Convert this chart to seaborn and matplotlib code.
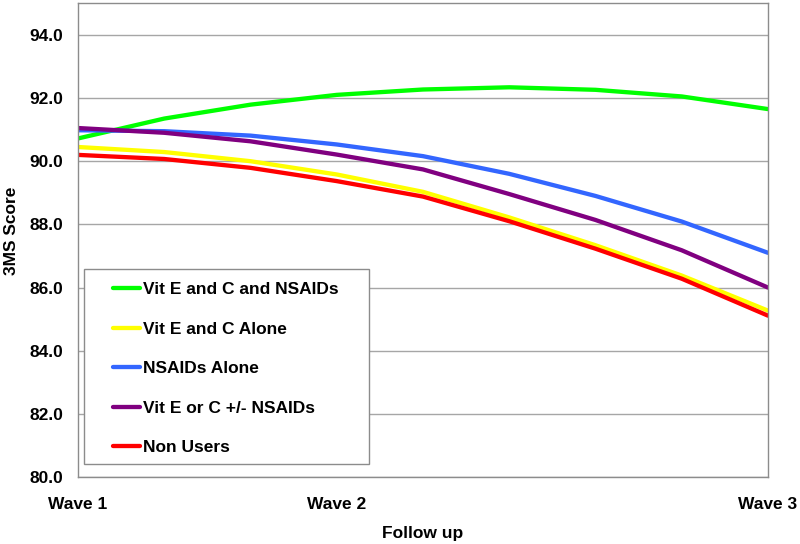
import matplotlib
matplotlib.use("Agg")
import matplotlib.pyplot as plt
from matplotlib.patches import Rectangle
import numpy as np
import pandas as pd
import seaborn as sns

# follow-up positions (Wave 1 at 0, Wave 2 at 3, Wave 3 at 8)
positions = [0, 1, 2, 3, 4, 5, 6, 7, 8]
tick_labels = ["Wave 1", "", "", "Wave 2", "", "", "", "", "Wave 3"]

vit_ec_nsaids = [90.72, 91.35, 91.79, 92.10, 92.27, 92.34, 92.26, 92.05, 91.65]
vit_ec_alone = [90.45, 90.29, 90.00, 89.58, 89.03, 88.22, 87.34, 86.38, 85.27]
nsaids_alone = [90.98, 90.95, 90.81, 90.53, 90.16, 89.60, 88.90, 88.09, 87.10]
vit_e_or_c = [91.05, 90.90, 90.63, 90.21, 89.74, 88.96, 88.14, 87.18, 86.00]
non_users = [90.20, 90.07, 89.79, 89.37, 88.88, 88.10, 87.23, 86.28, 85.11]

groups = ["Vit E and C and NSAIDs", "Vit E and C Alone", "NSAIDs Alone",
          "Vit E or C +/- NSAIDs", "Non Users"]
colors = ["#00FF00", "#FFFF00", "#3366FF", "#800080", "#FF0000"]

series = [vit_ec_nsaids, vit_ec_alone, nsaids_alone, vit_e_or_c, non_users]
df = pd.concat([
    pd.DataFrame({"wave": positions, "score": vals, "group": name})
    for name, vals in zip(groups, series)
], ignore_index=True)

sns.set_style("white")
plt.rcParams["font.family"] = ["Liberation Sans", "DejaVu Sans"]
plt.rcParams["font.weight"] = "bold"
plt.rcParams["text.color"] = "black"
plt.rcParams["axes.labelcolor"] = "black"
fs = 12.5

fig, ax = plt.subplots(figsize=(8, 5.44), dpi=100)
fig.subplots_adjust(left=0.0975, right=0.96, bottom=0.123, top=0.994)

sns.lineplot(data=df, x="wave", y="score", hue="group", hue_order=groups,
             palette=dict(zip(groups, colors)), linewidth=3.1, ax=ax, legend=True)

ax.set_xlim(0, 8)
ax.set_ylim(80, 95)
ax.set_yticks(np.arange(80, 95, 2))
ax.set_yticklabels([f"{v:.1f}" for v in np.arange(80, 95, 2)])
ax.set_xticks(positions)
ax.set_xticklabels(tick_labels)

ax.grid(axis="y", color="#A6A6A6", linewidth=1)
ax.grid(axis="x", visible=False)
for s in ax.spines.values():
    s.set_color("#8C8C8C")
    s.set_linewidth(1)

ax.tick_params(axis="y", direction="out", length=4, width=1, color="#8C8C8C",
               labelcolor="black", labelsize=fs, pad=6.5)
ax.tick_params(axis="x", direction="out", length=4, width=1, color="#8C8C8C",
               labelcolor="black", labelsize=fs, pad=10)
for lab in ax.get_xticklabels() + ax.get_yticklabels():
    lab.set_fontweight("bold")

ax.set_xlabel("Follow up", fontsize=fs, fontweight="bold")
ax.set_ylabel("3MS Score", fontsize=fs, fontweight="bold")
ax.xaxis.set_label_coords(0.5, -0.103)
ax.yaxis.set_label_coords(-0.086, 0.519)

# legend frame drawn separately so its padding matches the original
ax.add_patch(Rectangle((0.0087, 0.0274), 0.413, 0.4117, transform=ax.transAxes,
                       facecolor="white", edgecolor="#8C8C8C", linewidth=1, zorder=4))
handles, labels = ax.get_legend_handles_labels()
ax.legend(handles, labels, loc="upper left", bbox_to_anchor=(0.0507, 0.411),
          frameon=False, borderpad=0, borderaxespad=0, handlelength=1.55,
          handletextpad=0.2, labelspacing=1.4,
          prop={"size": fs, "weight": "bold"}).set_zorder(5)

fig.savefig("out.png", dpi=100)
